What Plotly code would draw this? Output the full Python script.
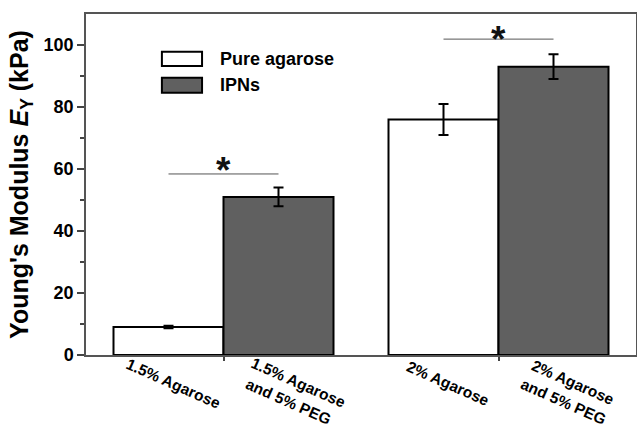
import plotly.graph_objects as go

# ---- data ----
group_pos = [0, 1]
pure_labels = ["1.5% Agarose", "2% Agarose"]
ipn_labels = [["1.5% Agarose", "and 5% PEG"], ["2% Agarose", "and 5% PEG"]]
pure_values = [9, 76]
pure_err = [0.4, 5]
ipn_values = [51, 93]
ipn_err = [3, 4]
sig_line_y = [58.4, 101.9]
sig_star_y = [62.3, 104.8]
y_ticks = [0, 20, 40, 60, 80, 100]

FONT = "Liberation Sans, Arial, sans-serif"
BAR_OFFSET = 0.2
LABEL_ANGLE = 24
LABEL_SIZE = 15.5

fig = go.Figure()
fig.add_trace(go.Bar(
    x=group_pos, y=pure_values, name="Pure agarose",
    marker=dict(color="white", line=dict(color="black", width=2)),
    error_y=dict(type="data", array=pure_err, color="black", thickness=2, width=5),
    showlegend=False,
))
fig.add_trace(go.Bar(
    x=group_pos, y=ipn_values, name="IPNs",
    marker=dict(color="#606060", line=dict(color="black", width=2)),
    error_y=dict(type="data", array=ipn_err, color="black", thickness=2, width=5),
    showlegend=False,
))

shapes = []
annotations = []
# significance lines and stars
for g, ly, sy in zip(group_pos, sig_line_y, sig_star_y):
    shapes.append(dict(type="line", xref="x", yref="y", x0=g - 0.2, x1=g + 0.2,
                       y0=ly, y1=ly, line=dict(color="#555555", width=1)))
    annotations.append(dict(x=g, y=sy, xref="x", yref="y", text="<b>*</b>",
                            showarrow=False, yanchor="middle", yshift=-9,
                            font=dict(family=FONT, size=37, color="#111111")))


def bar_label(xx, text, dx, dy):
    return dict(x=xx, y=0, xref="x", yref="paper", text="<b>" + text + "</b>",
                showarrow=False, textangle=LABEL_ANGLE, xanchor="center",
                yanchor="middle", xshift=dx, yshift=dy,
                font=dict(family=FONT, size=LABEL_SIZE, color="black"))


# bar labels under each bar
for g, pl, il in zip(group_pos, pure_labels, ipn_labels):
    annotations.append(bar_label(g - BAR_OFFSET, pl, 5, -28))
    annotations.append(bar_label(g + BAR_OFFSET, il[0], 20, -27))
    annotations.append(bar_label(g + BAR_OFFSET, il[1], 10, -46))

# manual legend
legend_items = [("Pure agarose", "white", 0.889, 0.8475, 0.869),
                ("IPNs", "#606060", 0.813, 0.769, 0.792)]
for name, col, y1, y0, ty in legend_items:
    shapes.append(dict(type="rect", xref="paper", yref="paper", x0=0.138, x1=0.211,
                       y0=y0, y1=y1, fillcolor=col, line=dict(color="black", width=2)))
    annotations.append(dict(x=0.24, y=ty, xref="paper", yref="paper", text="<b>" + name + "</b>",
                            showarrow=False, xanchor="left", yanchor="middle",
                            font=dict(family=FONT, size=18, color="black")))

fig.update_layout(
    width=637, height=429,
    margin=dict(l=86, r=1, t=14, b=74, autoexpand=False),
    paper_bgcolor="white", plot_bgcolor="white",
    barmode="group", bargap=0.2, bargroupgap=0,
    shapes=shapes, annotations=annotations,
    font=dict(family=FONT, color="black"),
)
fig.update_xaxes(
    range=[-0.5, 1.5], tickvals=group_pos, showticklabels=False,
    ticks="outside", ticklen=4, tickwidth=1.5, tickcolor="#444444",
    showline=True, linecolor="#555555", linewidth=1.5, mirror=True,
    showgrid=False, zeroline=False, automargin=False,
)
fig.update_yaxes(
    range=[0, 110], tickvals=y_ticks,
    ticktext=["<b>%d</b>" % v for v in y_ticks],
    tickfont=dict(family=FONT, size=18, color="black"),
    ticks="outside", ticklen=7, tickwidth=1.5, tickcolor="#444444",
    minor=dict(tickvals=[10, 30, 50, 70, 90], ticks="outside", ticklen=4, tickwidth=1.5, tickcolor="#444444"),
    showline=True, linecolor="#555555", linewidth=1.5, mirror=True,
    showgrid=False, zeroline=False, automargin=False,
    title=dict(text="<b>Young's Modulus <i>E</i><sub>Y</sub> (kPa)</b>",
               font=dict(family=FONT, size=25, color="black"), standoff=8),
)

fig.write_html(
    "out.html",
    config={"displayModeBar": False},
    post_script="document.body.style.margin='0';document.body.style.overflow='hidden';",
)
